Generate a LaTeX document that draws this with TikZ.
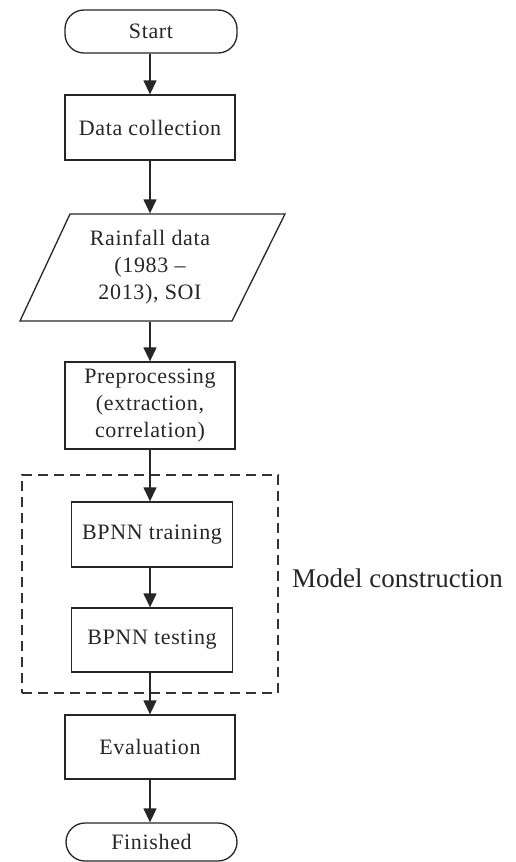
\documentclass[tikz,border=0pt]{standalone}
\usepackage{fontspec}
\setmainfont{Liberation Serif}
\newfontfamily\boxfont[LetterSpace=3]{Liberation Serif}
\usetikzlibrary{arrows.meta,positioning}
\begin{document}
\begin{tikzpicture}[x=1pt,y=1pt,
  base/.style={draw=black!85, line width=1.3pt, align=center, inner sep=2pt,
    font=\boxfont\fontsize{22}{27}\selectfont, text=black!85},
  procbox/.style={base, rectangle, minimum width=170pt},
  termbox/.style={base, rectangle, rounded corners=19pt, minimum width=172pt, minimum height=40pt},
  arr/.style={draw=black!85, line width=1.3pt, -{Triangle[length=14pt,width=13pt]}}
]
\useasboundingbox (0,0) rectangle (515,-862);
\node[termbox, minimum height=43pt] (start) at (151,-31.5) {Start};
\node[procbox, minimum height=65pt] (data) at (150,-127.5) {Data collection};
% parallelogram
\draw[draw=black!85, line width=1.3pt] (70,-214) -- (285,-214) -- (232,-321) -- (20,-321) -- cycle;
\node[base, draw=none, minimum height=107pt, minimum width=150pt] (rain) at (150,-267.5)
  {Rainfall data\\(1983 –\\2013), SOI};
\node[procbox, minimum height=87pt] (prep) at (150,-405.5) {Preprocessing\\(extraction,\\correlation)};
\node[draw=black!80, line width=1.2pt, dash pattern=on 10pt off 6pt, minimum width=256pt, minimum height=218pt, inner sep=0pt] (model) at (150,-584) {};
\node[procbox, minimum width=161pt, minimum height=65pt] (train) at (152,-534.5) {BPNN training};
\node[procbox, minimum width=161pt, minimum height=64pt] (test) at (152,-640) {BPNN testing};
\node[anchor=base west, font=\fontsize{27}{32}\selectfont, text=black!85, inner sep=0pt] (mlabel) at (292,-587) {Model construction};
\node[procbox, minimum height=64pt] (eval) at (150,-747) {Evaluation};
\node[termbox, minimum width=171pt, minimum height=38pt] (fin) at (151.5,-842) {Finished};
\draw[arr] (start.south -| data.north) -- (data.north);
\draw[arr] (data.south) -- (rain.north);
\draw[arr] (rain.south) -- (prep.north);
\draw[arr] (prep.south) -- (prep.south |- train.north);
\draw[arr] (prep.south |- train.south) -- (prep.south |- test.north);
\draw[arr] (prep.south |- test.south) -- (eval.north);
\draw[arr] (eval.south) -- (eval.south |- fin.north);
\end{tikzpicture}
\end{document}
